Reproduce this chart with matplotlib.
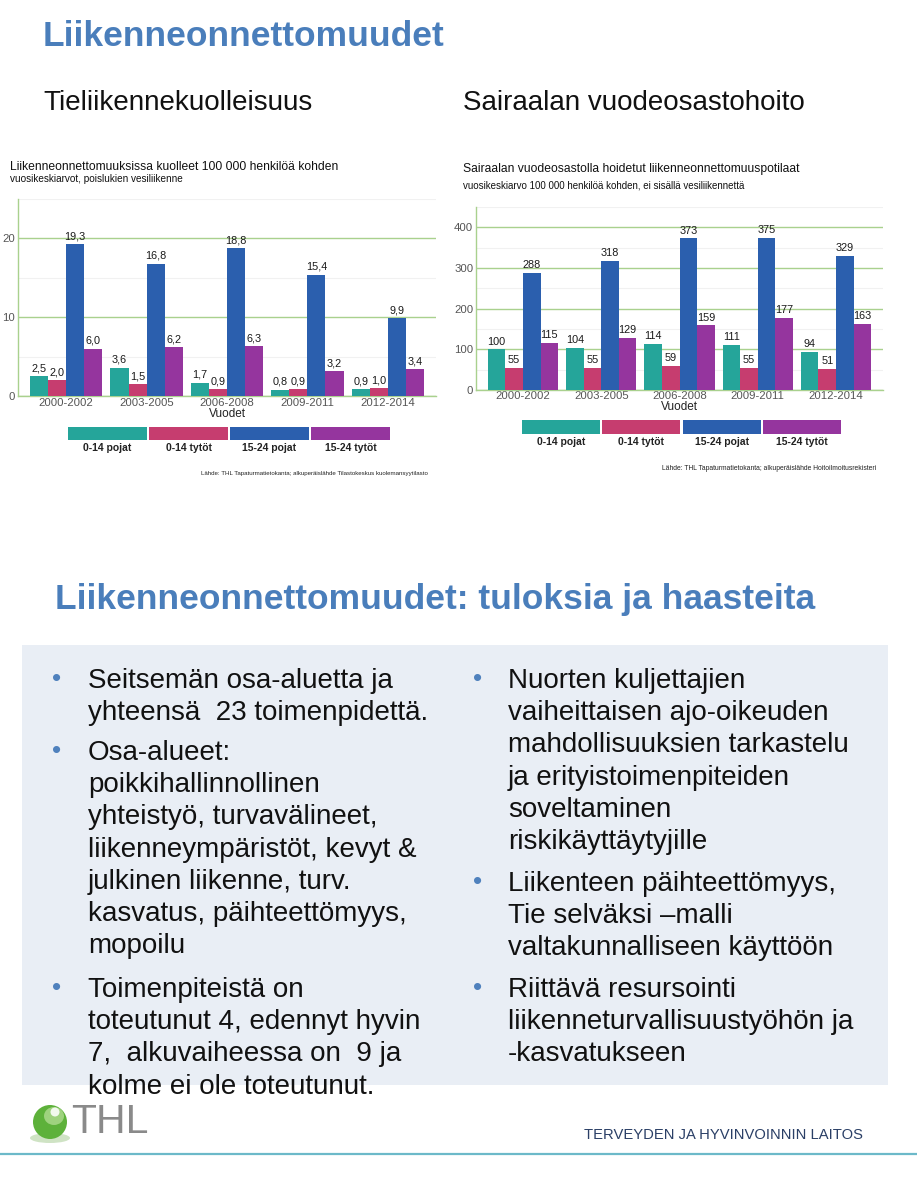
import matplotlib
matplotlib.use('Agg')
import matplotlib.pyplot as plt
from matplotlib.patches import Rectangle, Ellipse
from matplotlib.lines import Line2D
import numpy as np

plt.rcParams['font.family'] = ['Liberation Sans', 'DejaVu Sans']

# ---------------- data ----------------
periods = ['2000-2002', '2003-2005', '2006-2008', '2009-2011', '2012-2014']
groups = ['0-14 pojat', '0-14 tytöt', '15-24 pojat', '15-24 tytöt']

deaths_boys_0_14 = [2.5, 3.6, 1.7, 0.8, 0.9]
deaths_girls_0_14 = [2.0, 1.5, 0.9, 0.9, 1.0]
deaths_boys_15_24 = [19.3, 16.8, 18.8, 15.4, 9.9]
deaths_girls_15_24 = [6.0, 6.2, 6.3, 3.2, 3.4]

hosp_boys_0_14 = [100, 104, 114, 111, 94]
hosp_girls_0_14 = [55, 55, 59, 55, 51]
hosp_boys_15_24 = [288, 318, 373, 375, 329]
hosp_girls_15_24 = [115, 129, 159, 177, 163]

left_ticks = [0, 10, 20]
right_ticks = [0, 100, 200, 300, 400]

# ---------------- styling ----------------
COLORS = ['#25A59A', '#C63D6F', '#2B5FAE', '#95359E']
GRID = '#A9D18E'
TITLE_BLUE = '#4A7EBB'
W, H = 917, 1200

fig = plt.figure(figsize=(W / 100, H / 100), dpi=100)


def fx(px):
    return px / W


def fy(py):
    return 1 - py / H


def rect(x0, y0, x1, y1):
    return [fx(x0), fy(y1), fx(x1) - fx(x0), fy(y0) - fy(y1)]


def draw_chart(box, series, ymax, ticks, minor, fmt, leg_box, label_pad):
    ax = fig.add_axes(rect(*box))
    x = np.arange(len(periods))
    bw = 0.225
    for i, vals in enumerate(series):
        bars = ax.bar(x + (i - 1.5) * bw, vals, width=bw, color=COLORS[i],
                      zorder=3, linewidth=0)
        ax.bar_label(bars, labels=[fmt(v) for v in vals], padding=2,
                     fontsize=7.8, color='#1a1a1a')
    ax.set_xlim(-0.6, len(periods) - 0.4)
    ax.set_ylim(0, ymax)
    ax.set_yticks(ticks)
    ax.set_yticks(minor, minor=True)
    ax.set_xticks(x)
    ax.set_xticklabels(periods)
    ax.tick_params(axis='both', which='both', length=0, labelsize=8.2,
                   labelcolor='#555555')
    ax.tick_params(axis='x', pad=label_pad)
    ax.tick_params(axis='y', pad=2)
    ax.grid(axis='y', which='major', color=GRID, linewidth=1.0, zorder=0)
    ax.grid(axis='y', which='minor', color='#F1F1F1', linewidth=0.8, zorder=0)
    for s in ['top', 'right']:
        ax.spines[s].set_visible(False)
    for s in ['left', 'bottom']:
        ax.spines[s].set_color(GRID)
        ax.spines[s].set_linewidth(1.0)
    ax.set_xlabel('Vuodet', fontsize=8.5, color='#222222', labelpad=0)
    ax.set_facecolor('white')

    lax = fig.add_axes(rect(*leg_box))
    lax.bar(np.arange(len(groups)), [1] * len(groups), width=0.97,
            color=COLORS, linewidth=0)
    lax.set_xlim(-0.5, len(groups) - 0.5)
    lax.set_ylim(0, 1)
    lax.set_xticks(np.arange(len(groups)))
    lax.set_xticklabels(groups, fontsize=7.5, fontweight='bold',
                        color='#222222')
    lax.set_yticks([])
    lax.tick_params(length=0, pad=2)
    for s in lax.spines.values():
        s.set_visible(False)
    return ax


def fmt_dec(v):
    return f'{v:.1f}'.replace('.', ',')


def fmt_int(v):
    return f'{v:d}'


# ---------------- headings ----------------
fig.text(fx(43), fy(37), 'Liikenneonnettomuudet', fontsize=25.5,
         fontweight='bold', color=TITLE_BLUE, va='center', ha='left')
fig.text(fx(43), fy(103), 'Tieliikennekuolleisuus', fontsize=20,
         color='#111111', va='center', ha='left')
fig.text(fx(463), fy(103), 'Sairaalan vuodeosastohoito', fontsize=20,
         color='#111111', va='center', ha='left')

# ---------------- left chart ----------------
fig.text(fx(10), fy(167), 'Liikenneonnettomuuksissa kuolleet 100 000 henkilöä kohden',
         fontsize=8.7, color='#111111', va='center', ha='left')
fig.text(fx(10), fy(179), 'vuosikeskiarvot, poislukien vesiliikenne',
         fontsize=7.2, color='#111111', va='center', ha='left')
draw_chart((18, 199, 436, 396),
           [deaths_boys_0_14, deaths_girls_0_14, deaths_boys_15_24, deaths_girls_15_24],
           25, left_ticks, [5, 15, 25], fmt_dec, (67, 427, 391, 440), 1.5)
fig.text(fx(428), fy(473),
         'Lähde: THL Tapaturmatietokanta; alkuperäislähde Tilastokeskus kuolemansyytilasto',
         fontsize=4.4, color='#222222', va='center', ha='right')

# ---------------- right chart ----------------
fig.text(fx(463), fy(169), 'Sairaalan vuodeosastolla hoidetut liikenneonnettomuuspotilaat',
         fontsize=8.7, color='#111111', va='center', ha='left')
fig.text(fx(463), fy(185), 'vuosikeskiarvo 100 000 henkilöä kohden, ei sisällä vesiliikennettä',
         fontsize=7.0, color='#111111', va='center', ha='left')
draw_chart((476, 207, 883, 390),
           [hosp_boys_0_14, hosp_girls_0_14, hosp_boys_15_24, hosp_girls_15_24],
           450, right_ticks, [50, 150, 250, 350, 450], fmt_int, (521, 420, 842, 434), 1.0)
fig.text(fx(876), fy(468),
         'Lähde: THL Tapaturmatietokanta; alkuperäislähde Hoitoilmoitusrekisteri',
         fontsize=4.9, color='#222222', va='center', ha='right')

# ---------------- lower section ----------------
fig.text(fx(55), fy(600), 'Liikenneonnettomuudet: tuloksia ja haasteita', fontsize=25.5,
         fontweight='bold', color=TITLE_BLUE, va='center', ha='left')

fig.patches.append(Rectangle((fx(22), fy(1085)), fx(888) - fx(22), fy(645) - fy(1085),
                             transform=fig.transFigure, facecolor='#E9EEF5',
                             edgecolor='none', zorder=0))

left_bullets = [
    (681, ['Seitsemän osa-aluetta ja', 'yhteensä  23 toimenpidettä.']),
    (753, ['Osa-alueet:', 'poikkihallinnollinen', 'yhteistyö, turvavälineet,',
           'liikenneympäristöt, kevyt &', 'julkinen liikenne, turv.',
           'kasvatus, päihteettömyys,', 'mopoilu']),
    (990, ['Toimenpiteistä on', 'toteutunut 4, edennyt hyvin',
           '7,  alkuvaiheessa on  9 ja', 'kolme ei ole toteutunut.']),
]
right_bullets = [
    (681, ['Nuorten kuljettajien', 'vaiheittaisen ajo-oikeuden',
           'mahdollisuuksien tarkastelu', 'ja erityistoimenpiteiden',
           'soveltaminen', 'riskikäyttäytyjille']),
    (884, ['Liikenteen päihteettömyys,', 'Tie selväksi –malli',
           'valtakunnalliseen käyttöön']),
    (990, ['Riittävä resursointi', 'liikenneturvallisuustyöhön ja',
           '-kasvatukseen']),
]
LINE = 32.2
for bx, tx, items in [(57, 88, left_bullets), (478, 508, right_bullets)]:
    for y0, lines in items:
        fig.text(fx(bx), fy(y0 - 2), '•', fontsize=19, color='#4F81BD',
                 va='center', ha='center')
        for k, ln in enumerate(lines):
            fig.text(fx(tx), fy(y0 + k * LINE), ln, fontsize=20,
                     color='#111111', va='center', ha='left')

# ---------------- footer ----------------
fig.patches.append(Ellipse((fx(50), fy(1138)), fx(40), 10 / H,
                           transform=fig.transFigure, facecolor='#CFE3C4',
                           edgecolor='none'))
fig.patches.append(Ellipse((fx(50), fy(1122)), fx(34), 34 / H,
                           transform=fig.transFigure, facecolor='#5DB13A',
                           edgecolor='none'))
fig.patches.append(Ellipse((fx(54), fy(1116)), fx(20), 18 / H,
                           transform=fig.transFigure, facecolor='#9ED27E',
                           edgecolor='none'))
fig.patches.append(Ellipse((fx(55), fy(1112)), fx(9), 9 / H,
                           transform=fig.transFigure, facecolor='#F2F9EE',
                           edgecolor='none'))
fig.text(fx(71), fy(1122), 'THL', fontsize=29.5, color='#8A8A8A',
         va='center', ha='left')
fig.text(fx(863), fy(1135), 'TERVEYDEN JA HYVINVOINNIN LAITOS', fontsize=10.6,
         color='#2A3F66', va='center', ha='right')
fig.lines.append(Line2D([0, 1], [fy(1154), fy(1154)], transform=fig.transFigure,
                        color='#6CB9C9', linewidth=1.6))

fig.savefig('out.png', dpi=100, facecolor='white')
